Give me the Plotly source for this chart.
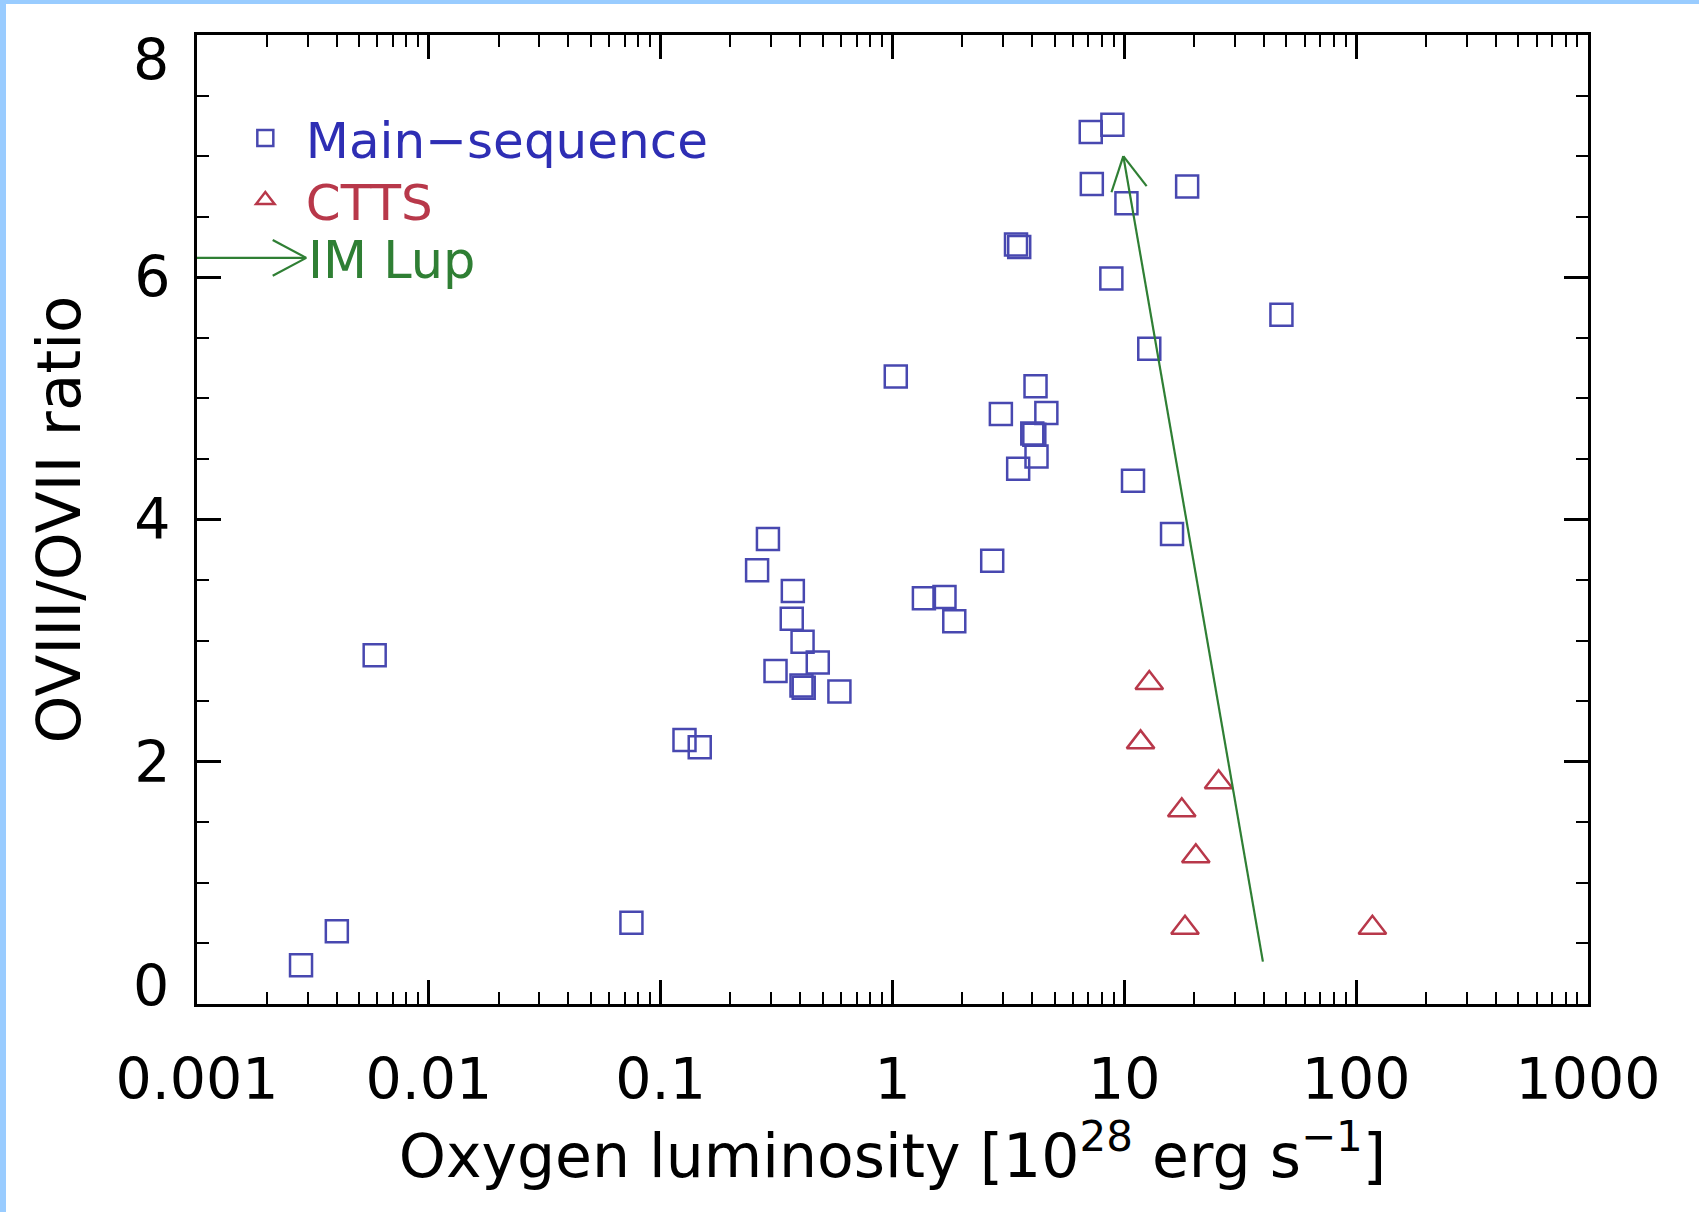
import math
import plotly.graph_objects as go

# ---- data ----
ms_lum = [0.00281, 0.00401, 0.00584, 0.0748, 0.1267, 0.1474,
          0.2606, 0.2902, 0.3129, 0.3716, 0.3676, 0.4093, 0.4050, 0.414, 0.4760, 0.5902,
          1.033, 1.366, 1.676, 1.847, 2.692, 2.934, 3.410, 3.52, 3.484, 4.008, 4.09,
          4.139, 4.18, 4.609, 7.164, 8.883, 7.24, 10.21, 8.79, 12.81, 10.90, 16.06,
          18.66, 47.6]
ms_ratio = [0.32, 0.60, 2.88, 0.67, 2.18, 2.12,
            3.58, 3.84, 2.75, 3.41, 3.18, 2.99, 2.63, 2.61, 2.82, 2.58,
            5.18, 3.35, 3.36, 3.16, 3.66, 4.87, 6.27, 6.25, 4.42, 4.71, 4.70,
            5.10, 4.52, 4.88, 7.20, 7.26, 6.77, 6.61, 5.99, 5.41, 4.32, 3.88,
            6.75, 5.69]

ctts_lum = [12.81, 11.75, 25.5, 17.69, 20.34, 18.27, 117.5]
ctts_ratio = [2.65, 2.16, 1.83, 1.60, 1.22, 0.63, 0.63]

# IM Lup arrows (start -> end)
imlup_track_lum = [39.6, 9.9]
imlup_track_ratio = [0.35, 7.0]
imlup_pointer_lum = [0.001, 0.00296]
imlup_pointer_ratio = [6.16, 6.16]

x_tickvals = [0.001, 0.01, 0.1, 1, 10, 100, 1000]
x_ticktext = ["0.001", "0.01", "0.1", "1", "10", "100", "1000"]
y_tickvals = [0, 2, 4, 6, 8]
y_ticktext = ["0", "2", "4", "6", "8"]

BLUE = "#4848b0"
BLUE_TXT = "#2e2eb4"
RED = "#b8384a"
GREEN = "#2f7f34"
FONT = "DejaVu Sans"

# figure geometry
L, R, T, B, W, H = 197, 111, 35, 208, 1699, 1212
pw, ph = W - L - R, H - T - B
XR = [-3, 3]
YR = [0, 8]
Y_LABEL_STANDOFF = 12


def to_px(x, y):
    return (L + (math.log10(x) - XR[0]) / (XR[1] - XR[0]) * pw,
            T + (YR[1] - y) / (YR[1] - YR[0]) * ph)


def to_data(px, py):
    return (10 ** ((px - L) / pw * (XR[1] - XR[0]) + XR[0]),
            YR[1] - (py - T) / ph * (YR[1] - YR[0]))


def arrow_path(xs, ys, head_len=38, half_angle=28):
    """shaft + open V head, computed in pixel space, returned in data units"""
    (sx, sy), (tx, ty) = to_px(xs[0], ys[0]), to_px(xs[1], ys[1])
    ux, uy = sx - tx, sy - ty
    n = math.hypot(ux, uy)
    ux, uy = ux / n, uy / n
    px_out, py_out = [xs[0], xs[1], None], [ys[0], ys[1], None]
    for sgn in (1, -1):
        a = math.radians(half_angle) * sgn
        rx = ux * math.cos(a) - uy * math.sin(a)
        ry = ux * math.sin(a) + uy * math.cos(a)
        dx, dy = to_data(tx + head_len * rx, ty + head_len * ry)
        px_out += [dx, xs[1]]
        py_out += [dy, ys[1]]
        if sgn == 1:
            px_out.append(None)
            py_out.append(None)
    return px_out, py_out


fig = go.Figure()
fig.add_trace(go.Scatter(
    x=ms_lum, y=ms_ratio, mode="markers", legend="legend",
    name=f"<span style='color:{BLUE_TXT}'>Main−sequence</span>",
    marker=dict(symbol="square-open", size=22, color=BLUE, line=dict(width=2.5, color=BLUE)),
))
fig.add_trace(go.Scatter(
    x=ctts_lum, y=ctts_ratio, mode="markers", legend="legend2",
    name=f"<span style='color:{RED}'>CTTS</span>",
    marker=dict(symbol="triangle-up-open", size=24, color=RED, line=dict(width=2.5, color=RED)),
))

for xs, ys in ((imlup_track_lum, imlup_track_ratio), (imlup_pointer_lum, imlup_pointer_ratio)):
    ax_, ay_ = arrow_path(xs, ys)
    fig.add_trace(go.Scatter(x=ax_, y=ay_, mode="lines", showlegend=False,
                             hoverinfo="skip", cliponaxis=False,
                             line=dict(color=GREEN, width=2.2)))

fig.add_annotation(
    x=math.log10(imlup_pointer_lum[1]), y=imlup_pointer_ratio[1],
    xref="x", yref="y", text="IM Lup", showarrow=False,
    xanchor="left", yanchor="middle", xshift=0, yshift=-3,
    font=dict(family=FONT, size=51, color=GREEN),
)

minor_x = [k * 10.0 ** e for e in range(-3, 3) for k in range(2, 10)]

tickfont = dict(family=FONT, size=57, color="black")
axis_common = dict(
    showline=True, linecolor="black", linewidth=3, mirror="allticks",
    ticks="inside", tickcolor="black", tickwidth=2.5,
    showgrid=False, zeroline=False, automargin=False,
    tickfont=tickfont,
)

fig.update_xaxes(
    type="log", range=XR,
    tickmode="array", tickvals=x_tickvals, ticktext=x_ticktext,
    ticklen=24, ticklabelstandoff=24,
    minor=dict(tickmode="array", tickvals=minor_x, ticks="inside", ticklen=12,
               tickwidth=2, tickcolor="black", showgrid=False),
    title=dict(text="Oxygen luminosity [10<sup>28</sup> erg s<sup>−1</sup>]",
               font=dict(family=FONT, size=60, color="black"), standoff=16),
    **axis_common,
)
# inner y labels on the axis; the two end labels are nudged inward (IDL style)
fig.update_yaxes(
    range=YR, tickmode="array", tickvals=y_tickvals[1:-1], ticktext=y_ticktext[1:-1],
    ticklen=24, ticklabelstandoff=Y_LABEL_STANDOFF,
    minor=dict(dtick=0.5, tick0=0, ticks="inside", ticklen=12, tickwidth=2,
               tickcolor="black", showgrid=False),
    title=dict(text="OVIII/OVII ratio", font=dict(family=FONT, size=61, color="black"),
               standoff=34),
    **axis_common,
)
for val, txt, shift in ((y_tickvals[-1], y_ticktext[-1], -25), (y_tickvals[0], y_ticktext[0], 18)):
    fig.add_annotation(x=0, xref="paper", y=val, yref="y", text=txt, showarrow=False,
                       xanchor="right", yanchor="middle",
                       xshift=-(Y_LABEL_STANDOFF + 14), yshift=shift, font=tickfont)

# light-blue frame bands at left and top of the image
fig.add_shape(type="rect", xref="paper", yref="paper",
              x0=-L / pw, x1=(6 - L) / pw, y0=-B / ph, y1=(H - B) / ph,
              fillcolor="#99ccff", line=dict(width=0), layer="below")
fig.add_shape(type="rect", xref="paper", yref="paper",
              x0=-L / pw, x1=(W - L) / pw, y0=(H - B - 4) / ph, y1=(H - B) / ph,
              fillcolor="#99ccff", line=dict(width=0), layer="below")

leg_common = dict(xanchor="left", yanchor="middle", bgcolor="rgba(0,0,0,0)",
                  font=dict(family=FONT, size=50), itemwidth=71)
fig.update_layout(
    width=W, height=H,
    margin=dict(l=L, r=R, t=T, b=B, autoexpand=False),
    paper_bgcolor="white", plot_bgcolor="white",
    showlegend=True,
    legend=dict(x=0.02, y=(H - B - 138) / ph, **leg_common),
    legend2=dict(x=0.02, y=(H - B - 200) / ph, **leg_common),
)

fig.write_html("out.html", config={"displayModeBar": False},
               post_script="document.body.style.margin='0';document.body.style.padding='0';")
